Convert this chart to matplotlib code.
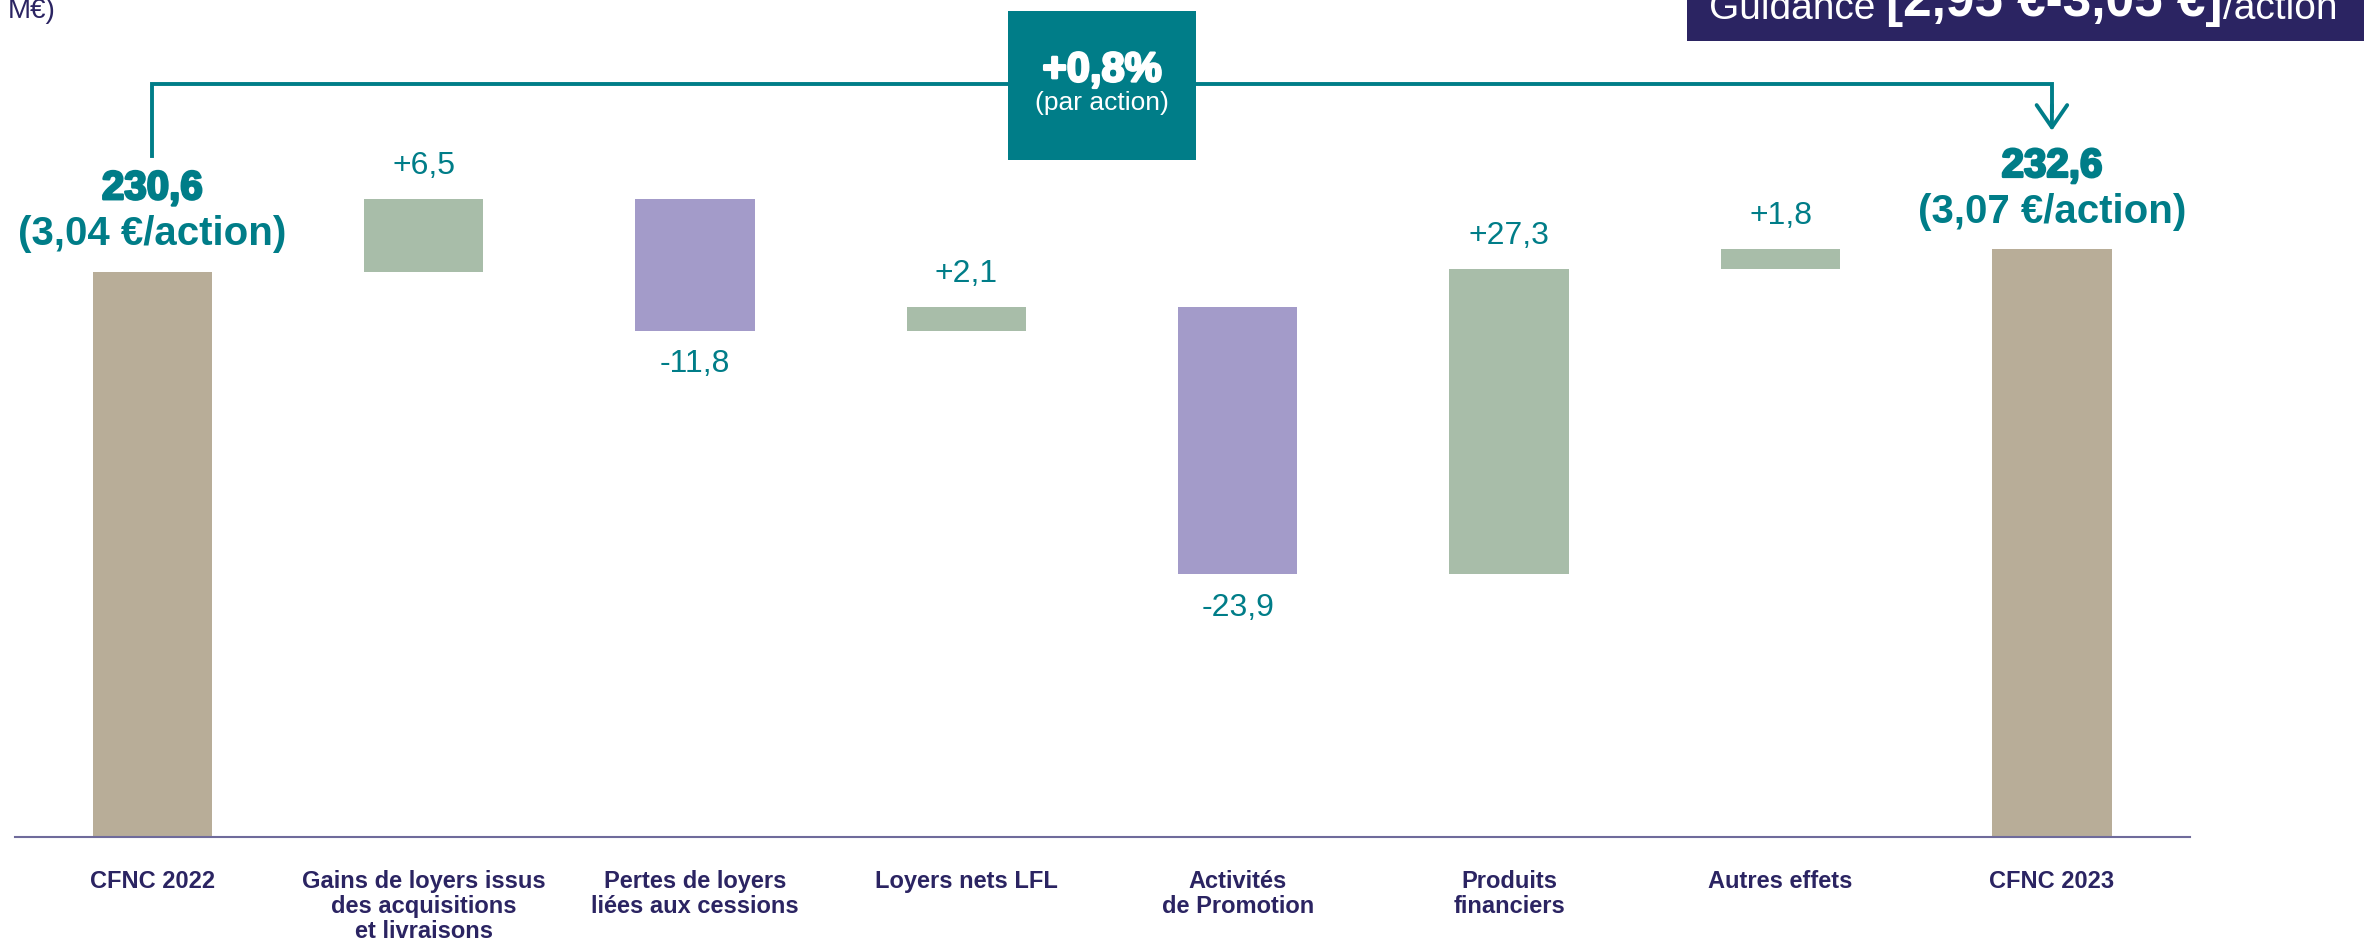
import matplotlib
matplotlib.use("Agg")
import matplotlib.pyplot as plt
import matplotlib.patheffects as pe
from matplotlib.patches import Rectangle
from matplotlib.text import Annotation

# data
categories = ["CFNC 2022",
              "Gains de loyers issus\ndes acquisitions\net livraisons",
              "Pertes de loyers\nliées aux cessions",
              "Loyers nets LFL",
              "Activités\nde Promotion",
              "Produits\nfinanciers",
              "Autres effets",
              "CFNC 2023"]
start_total = 230.6
end_total = 232.6
deltas = [6.5, -11.8, 2.1, -23.9, 27.3, 1.8]
delta_labels = ["+6,5", "-11,8", "+2,1", "-23,9", "+27,3", "+1,8"]
total_labels = ["230,6", "232,6"]
per_share_labels = ["(3,04 €/action)", "(3,07 €/action)"]
growth_label = "+0,8%"
growth_sub = "(par action)"
guidance_parts = ["Guidance ", "[2,95 €-3,05 €]", "/action"]
unit_label = "M€)"
y_floor = 180  # truncated axis

teal = "#007d88"
navy = "#2b2462"
c_total = "#b8ad98"
c_up = "#a8bda9"
c_down = "#a39bc9"
sans = ["Liberation Sans", "DejaVu Sans"]

fig = plt.figure(figsize=(23.64, 9.47), dpi=100)
ax = fig.add_axes([0.0063, 0.1162, 0.920, 0.8838])
ax.set_xlim(-0.506, 7.508)
ax.set_ylim(y_floor, 254.9)

w = 0.44
# totals
ax.bar(0, start_total - y_floor, bottom=y_floor, width=w, color=c_total)
ax.bar(7, end_total - y_floor, bottom=y_floor, width=w, color=c_total)

# deltas
level = start_total
for i, (d, lbl) in enumerate(zip(deltas, delta_labels), start=1):
    lo, hi = (level, level + d) if d > 0 else (level + d, level)
    ax.bar(i, hi - lo, bottom=lo, width=w, color=c_up if d > 0 else c_down)
    if d > 0:
        ax.annotate(lbl, xy=(i, hi), xytext=(0, 24), textcoords="offset points",
                    ha="center", va="center", fontsize=23, color=teal, family=sans)
    else:
        ax.annotate(lbl, xy=(i, lo), xytext=(0, -24), textcoords="offset points",
                    ha="center", va="center", fontsize=23, color=teal, family=sans)
    level += d

heavy = [pe.withStroke(linewidth=1.8, foreground=teal)]
for x, v, t1, t2 in zip([0, 7], [start_total, end_total], total_labels, per_share_labels):
    ax.annotate(t1, xy=(x, v), xytext=(0, 60), textcoords="offset points",
                ha="center", va="center", fontsize=29, fontweight="bold",
                color=teal, family=sans, path_effects=heavy)
    ax.annotate(t2, xy=(x, v), xytext=(0, 27), textcoords="offset points",
                ha="center", va="center", fontsize=29, fontweight="bold",
                color=teal, family=sans)

# bracket with arrow
ax.plot([0, 0, 7, 7], [240.9, 247.4, 247.4, 245.0], color=teal, lw=2.8,
        clip_on=False, solid_joinstyle="miter")
ax.annotate("", xy=(7, 243.2), xytext=(7, 245.5),
            arrowprops=dict(arrowstyle="->,head_length=0.8,head_width=0.55",
                            color=teal, lw=2.8, mutation_scale=20,
                            shrinkA=0, shrinkB=0))

ax.add_patch(Rectangle((3.5 - 0.3465, 240.55), 0.693, 13.35, facecolor=teal,
                       edgecolor="none", zorder=5, clip_on=False))
ax.text(3.5, 248.6, growth_label, ha="center", va="center", fontsize=30,
        fontweight="bold", color="white", family=sans, zorder=6,
        path_effects=[pe.withStroke(linewidth=1.8, foreground="white")])
ax.text(3.5, 245.65, growth_sub, ha="center", va="center", fontsize=19,
        color="white", family=sans, zorder=6)

# axes styling
for s in ["top", "right", "left"]:
    ax.spines[s].set_visible(False)
ax.spines["bottom"].set_color("#6f6b9b")
ax.spines["bottom"].set_linewidth(1.5)
ax.set_yticks([])
ax.set_xticks(range(len(categories)))
ax.set_xticklabels(categories, fontsize=17, fontweight="bold", color=navy,
                   family=sans, linespacing=1.1)
ax.tick_params(axis="x", length=0, pad=24)

# guidance box (top right)
fig.add_artist(Rectangle((0.7136, 0.9567), 0.30, 0.05, transform=fig.transFigure,
                         facecolor=navy, edgecolor="none", zorder=5))
g1 = fig.text(0.7229, 0.980, guidance_parts[0], fontsize=28, color="white",
              va="baseline", family=sans, zorder=6)
g2 = Annotation(guidance_parts[1], xy=(1, 0), xycoords=g1, va="bottom",
                fontsize=37, fontweight="bold", color="white", family=sans,
                zorder=6, annotation_clip=False)
fig.add_artist(g2)
g3 = Annotation(guidance_parts[2], xy=(1, 0), xycoords=g2, va="bottom",
                fontsize=28, color="white", family=sans, zorder=6,
                annotation_clip=False)
fig.add_artist(g3)

fig.text(0.0034, 0.981, unit_label, fontsize=20, color=navy, va="baseline",
         family=sans)

fig.savefig("out.png", dpi=100)
